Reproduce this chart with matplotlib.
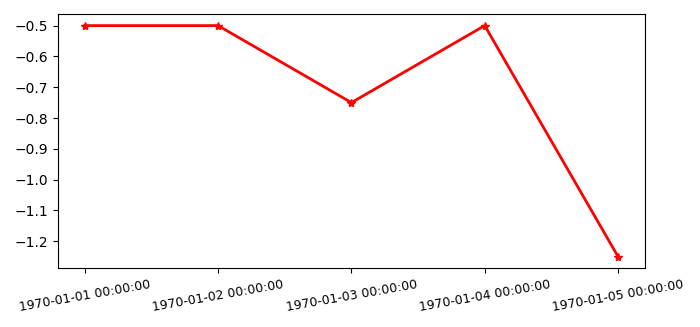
import matplotlib
matplotlib.use("Agg")
import matplotlib.pyplot as plt

dates = ["1970-01-01 00:00:00", "1970-01-02 00:00:00", "1970-01-03 00:00:00",
         "1970-01-04 00:00:00", "1970-01-05 00:00:00"]
values = [-0.5, -0.5, -0.75, -0.5, -1.25]

fig, ax = plt.subplots(figsize=(7, 3.27), dpi=100)
ax.plot(dates, values, color="red", marker="*", linewidth=2)
plt.xticks(rotation=10, fontsize=9)

plt.subplots_adjust(left=0.083, right=0.921, top=0.957, bottom=0.18)
plt.savefig("out.png", dpi=100)
